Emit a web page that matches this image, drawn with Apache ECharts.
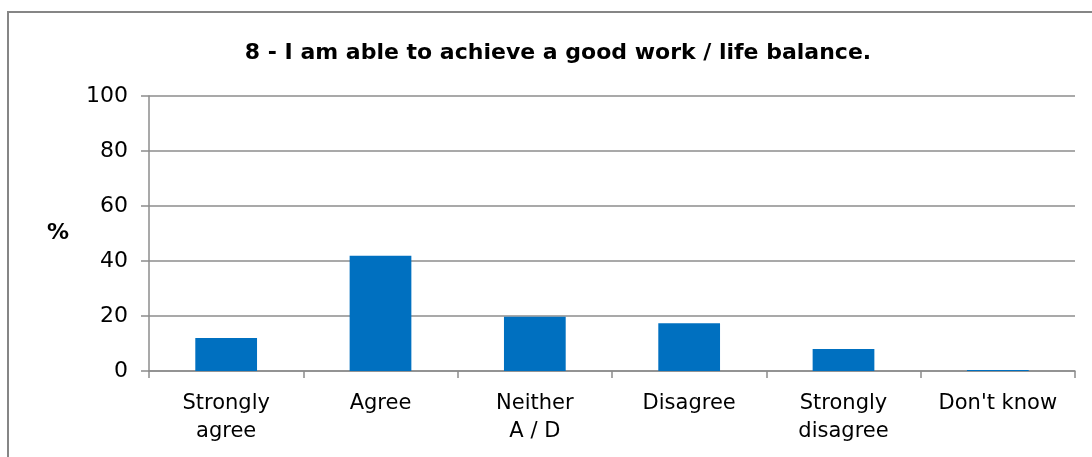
<!DOCTYPE html>
<html>
<head>
<meta charset="utf-8">
<script src="https://cdn.jsdelivr.net/npm/echarts@6/dist/echarts.min.js"></script>
<style>
  html, body { margin: 0; padding: 0; background: #fff; }
  #chart { width: 1092px; height: 457px; }
</style>
</head>
<body>
<div id="chart"></div>
<script>
// Survey responses, percent of respondents
const titleText = '8 - I am able to achieve a good work / life balance.';
const categories = ['Strongly\nagree', 'Agree', 'Neither\nA / D', 'Disagree', 'Strongly\ndisagree', "Don't know"];
const percentages = [12.0, 41.9, 19.7, 17.4, 8.0, 0.4];
const yTicks = [0, 20, 40, 60, 80, 100];

const font = 'DejaVu Sans, Liberation Sans, sans-serif';
const axisGray = '#8c8c8c';

const chart = echarts.init(document.getElementById('chart'), null, { renderer: 'canvas' });
chart.setOption({
  backgroundColor: '#ffffff',
  animation: false,
  title: {
    text: titleText,
    left: 553,
    top: 37,
    textAlign: 'center',
    textStyle: { fontFamily: font, fontSize: 22, fontWeight: 'bold', color: '#000' }
  },
  graphic: [{
    type: 'rect',
    shape: { x: 8, y: 12, width: 1200, height: 1000 },
    style: { fill: 'none', stroke: '#868686', lineWidth: 2 },
    silent: true
  }],
  grid: { left: 149, right: 17, top: 96, bottom: 86, containLabel: false },
  xAxis: {
    type: 'category',
    data: categories,
    axisLine: { show: true, lineStyle: { color: axisGray, width: 1.5 } },
    axisTick: { show: true, length: 7, lineStyle: { color: axisGray, width: 1.5 } },
    axisLabel: { fontFamily: font, fontSize: 21, color: '#000', margin: 19, lineHeight: 28, interval: 0 }
  },
  yAxis: {
    type: 'value',
    min: yTicks[0],
    max: yTicks[yTicks.length - 1],
    interval: yTicks[1] - yTicks[0],
    name: '%',
    nameLocation: 'middle',
    nameRotate: 0,
    nameGap: 80,
    nameTextStyle: { fontFamily: font, fontSize: 22, fontWeight: 'bold', color: '#000' },
    axisLine: { show: true, lineStyle: { color: axisGray, width: 1.5 } },
    axisTick: { show: true, length: 8, lineStyle: { color: axisGray, width: 1.5 } },
    axisLabel: { fontFamily: font, fontSize: 22, color: '#000', margin: 21 },
    splitLine: { show: true, lineStyle: { color: axisGray, width: 1.5 } }
  },
  series: [{
    type: 'bar',
    data: percentages,
    barWidth: '40%',
    itemStyle: { color: '#0070c0' }
  }]
});
</script>
</body>
</html>
